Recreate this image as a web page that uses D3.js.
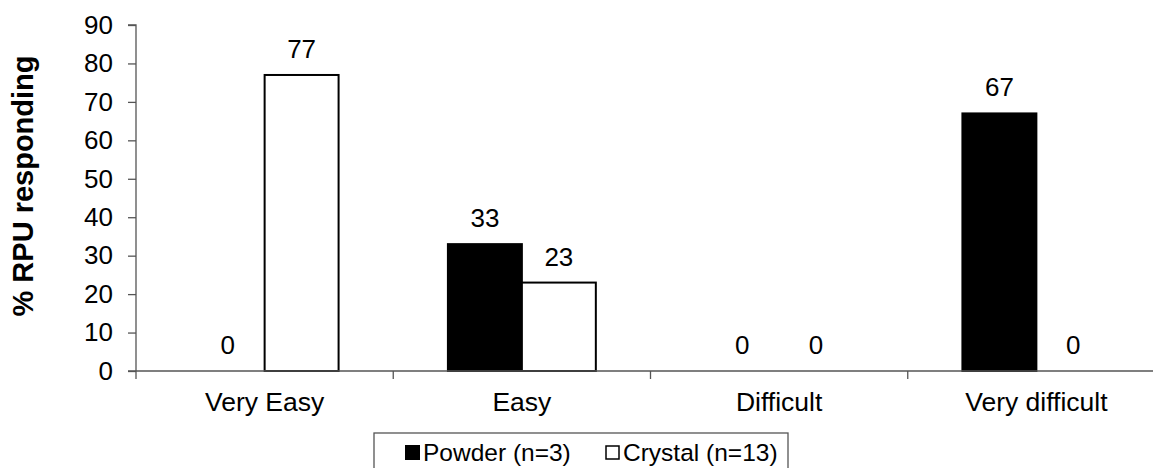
<!DOCTYPE html>
<html>
<head>
<meta charset="utf-8">
<script src="https://cdn.jsdelivr.net/npm/d3@7"></script>
<style>
  html, body { margin: 0; padding: 0; background: #fff; }
  svg { display: block; font-family: Arial, "Liberation Sans", sans-serif; }
</style>
</head>
<body>
<svg id="chart" width="1153" height="468"></svg>
<script>
const categories = ["Very Easy", "Easy", "Difficult", "Very difficult"];
const seriesNames = ["Powder (n=3)", "Crystal (n=13)"];
const powderValues = [0, 33, 0, 67];
const crystalValues = [77, 23, 0, 0];
const yTicks = [0, 10, 20, 30, 40, 50, 60, 70, 80, 90];
const seriesFill = ["#000000", "#ffffff"];

const svg = d3.select("#chart");
const W = 1153, H = 468;
const margin = { left: 136, top: 25, bottom: 97, right: -12 };
const plotLeft = margin.left, plotRight = W - margin.right;
const plotTop = margin.top, plotBottom = H - margin.bottom;
const FONT = "Arial, 'Liberation Sans', sans-serif";

const x0 = d3.scaleBand().domain(categories).range([plotLeft, plotRight]).padding(0);
const groupW = x0.bandwidth() * 0.575;
const x1 = d3.scaleBand().domain(seriesNames)
  .range([x0.bandwidth() / 2 - groupW / 2, x0.bandwidth() / 2 + groupW / 2]).padding(0);
const y = d3.scaleLinear().domain([0, 90]).range([plotBottom, plotTop]);

const data = categories.map((c, i) => ({
  cat: c,
  vals: [
    { s: seriesNames[0], v: powderValues[i], fill: seriesFill[0] },
    { s: seriesNames[1], v: crystalValues[i], fill: seriesFill[1] }
  ]
}));

// Bars
const groups = svg.append("g").selectAll("g").data(data).join("g")
  .attr("transform", d => `translate(${x0(d.cat)},0)`);
groups.selectAll("rect").data(d => d.vals.filter(v => v.v > 0)).join("rect")
  .attr("x", d => x1(d.s))
  .attr("y", d => y(d.v))
  .attr("width", x1.bandwidth())
  .attr("height", d => y(0) - y(d.v))
  .attr("fill", d => d.fill)
  .attr("stroke", "#000")
  .attr("stroke-width", 2);

// Value labels
groups.selectAll("text").data(d => d.vals).join("text")
  .attr("x", d => x1(d.s) + x1.bandwidth() / 2)
  .attr("y", d => y(d.v) - 17)
  .attr("text-anchor", "middle")
  .attr("font-size", 26)
  .attr("fill", "#000")
  .text(d => d.v);

// Y axis
const yAxis = d3.axisLeft(y).tickValues(yTicks).tickSize(8).tickPadding(15);
const gy = svg.append("g").attr("transform", `translate(${plotLeft},0)`).call(yAxis);
gy.select(".domain").attr("stroke", "#555").attr("stroke-width", 1.3)
  .attr("d", `M-8,${plotTop}H0V${plotBottom}`);
gy.selectAll(".tick line").attr("stroke", "#555").attr("stroke-width", 1.3);
gy.selectAll(".tick text").attr("font-size", 26).attr("fill", "#000")
  .attr("font-family", FONT);

// X axis
const xAxis = d3.axisBottom(x0).tickSize(0).tickPadding(21);
const gx = svg.append("g").attr("transform", `translate(0,${plotBottom})`).call(xAxis);
gx.select(".domain").attr("stroke", "#555").attr("stroke-width", 1.3)
  .attr("d", `M${plotLeft - 8},0H${plotRight}`);
gx.selectAll(".tick text").attr("font-size", 26.5).attr("fill", "#000")
  .attr("font-family", FONT);
// category boundary ticks
const bounds = categories.map(c => x0(c)).concat([plotRight]);
gx.append("g").selectAll("line").data(bounds).join("line")
  .attr("x1", d => d).attr("x2", d => d)
  .attr("y1", 0).attr("y2", 8)
  .attr("stroke", "#555").attr("stroke-width", 1.3);

// Y axis title
svg.append("text")
  .attr("transform", `translate(33,186) rotate(-90)`)
  .attr("text-anchor", "middle")
  .attr("font-size", 29)
  .attr("font-weight", "bold")
  .attr("fill", "#000")
  .text("% RPU responding");

// Legend
const lg = svg.append("g");
lg.append("rect").attr("x", 374).attr("y", 433).attr("width", 414).attr("height", 45)
  .attr("fill", "#fff").attr("stroke", "#555").attr("stroke-width", 1.3);
const legendX = [405, 605];
seriesNames.forEach((s, i) => {
  lg.append("rect").attr("x", legendX[i] + (i ? 1 : 0)).attr("y", 445 + (i ? 1 : 0))
    .attr("width", i ? 13 : 15).attr("height", i ? 13 : 15)
    .attr("fill", seriesFill[i]).attr("stroke", "#000").attr("stroke-width", i ? 1.5 : 0);
  lg.append("text").attr("x", legendX[i] + 18).attr("y", 461)
    .attr("font-size", 24.5).attr("fill", "#000").text(s);
});
</script>
</body>
</html>
